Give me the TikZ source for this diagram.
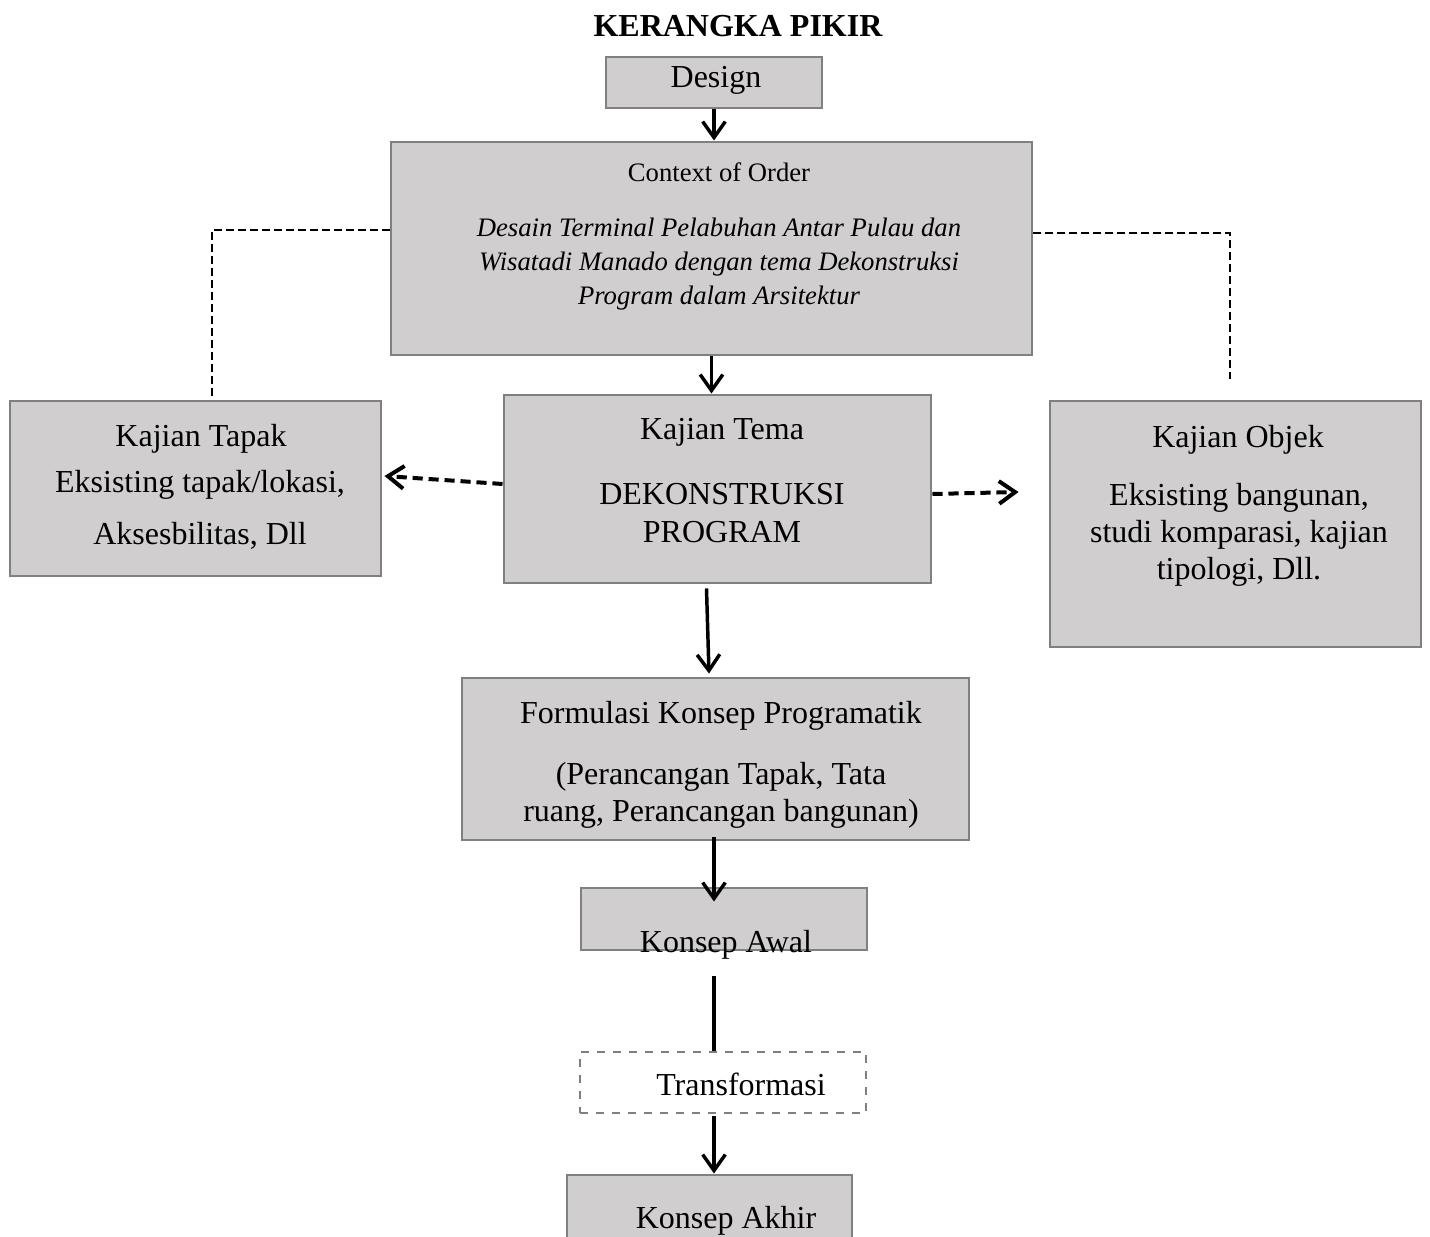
\documentclass[tikz,border=0pt]{standalone}
\usepackage{fontspec}
\setmainfont{Liberation Serif}
\usetikzlibrary{arrows.meta, fit, positioning}
\definecolor{boxfill}{RGB}{208, 206, 206}
\definecolor{boxline}{RGB}{128, 128, 128}

\begin{document}
\begin{tikzpicture}[x=0.375pt, y=-0.375pt,
    box/.style={draw=boxline, fill=boxfill, line width=1.1pt, inner sep=0pt},
    dashbox/.style={draw=boxline, fill=white, dashed, line width=0.8pt, inner sep=0pt},
    txt/.style={font=\fontsize{12}{14}\selectfont, align=center, inner sep=0pt},
    flow/.style={-{Straight Barb[length=6pt, width=8.5pt]}, line width=1.3pt},
    side/.style={flow, dash pattern=on 3.8pt off 2.2pt, line width=1.5pt},
    link/.style={dash pattern=on 3pt off 1.5pt, line width=1pt}]
  \path[use as bounding box, clip] (0,0) rectangle (1430,1237);

  % Title
  \node[txt, font=\bfseries\fontsize{12}{14}\selectfont, anchor=base] (title) at (738,37) {KERANGKA PIKIR};

  % Main boxes
  \node[box, fit={(606,57) (822,108)}] (design) {};
  \node[box, fit={(391,142) (1032,355)}] (context) {};
  \node[box, fit={(504,395) (931,583)}] (tema) {};
  \node[box, fit={(10,401) (381,576)}] (tapak) {};
  \node[box, fit={(1050,401) (1421,647)}] (objek) {};
  \node[box, fit={(462,678) (969,840)}] (formulasi) {};
  \node[box, fit={(581,888) (867,950)}] (awal) {};
  \node[dashbox, fit={(580,1052) (866,1113)}] (trans) {};
  \node[box, fit={(567,1175) (852,1260)}] (akhir) {};

  % Texts
  \node[txt, anchor=base] (designtxt) at (716,88) {Design};
  \node[txt, font=\fontsize{10}{12}\selectfont, anchor=base] (contexttxt) at (719,182) {Context of Order};
  \node[txt, font=\itshape\fontsize{10}{12.9}\selectfont] (contextbody) at (719,264)
    {Desain Terminal Pelabuhan Antar Pulau dan\\Wisatadi Manado dengan tema Dekonstruksi\\Program dalam Arsitektur};
  \node[txt, anchor=base] (tematxt) at (722,440) {Kajian Tema};
  \node[txt, font=\fontsize{12}{14.25}\selectfont] (temabody) at (722,513) {DEKONSTRUKSI\\PROGRAM};
  \node[txt, anchor=base] (tapaktxt) at (201,447) {Kajian Tapak};
  \node[txt, font=\fontsize{12}{19.5}\selectfont] (tapakbody) at (200,510) {Eksisting tapak/lokasi,\\Aksesbilitas, Dll};
  \node[txt, anchor=base] (objektxt) at (1238,448) {Kajian Objek};
  \node[txt, font=\fontsize{12}{13.9}\selectfont] (objekbody) at (1239,535)
    {Eksisting bangunan,\\studi komparasi, kajian\\tipologi, Dll.};
  \node[txt, anchor=base] (formulasitxt) at (721,723) {Formulasi Konsep Programatik};
  \node[txt, font=\fontsize{12}{13.9}\selectfont] (formulasibody) at (721,795)
    {(Perancangan Tapak, Tata\\ruang, Perancangan bangunan)};
  \node[txt, anchor=base] (awaltxt) at (726,952) {Konsep Awal};
  \node[txt, anchor=base] (transtxt) at (741,1095) {Transformasi};
  \node[txt, anchor=base] (akhirtxt) at (726,1228) {Konsep Akhir};

  % Dashed links to the side studies
  \draw[link] ([shift={(0,-18.5)}]context.west) -| ([shift={(16.5,-3)}]tapak.north);
  \draw[link] ([shift={(0,-15.5)}]context.east) -| ([shift={(-5.5,-21)}]objek.north);

  % Flow
  \draw[flow] (design.south) -- (design.south |- context.north);
  \draw[flow] (context.south) -- (context.south |- tema.north);
  \draw[side] ([shift={(0,-5)}]tema.west) -- ([shift={(2,-12.5)}]tapak.east);
  \draw[side] ([shift={(0,5)}]tema.east) -- ([shift={(-30,-32)}]objek.west);
  \draw[flow] ([shift={(-11,4)}]tema.south) -- ([shift={(-6.5,-3)}]formulasi.north);
  \draw[flow] ([shift={(-1.5,-4)}]formulasi.south) -- ([shift={(-10,15)}]awal.north);
  \draw[line width=1.3pt] ([shift={(-10,25)}]awal.south) -- ([shift={(-9,0)}]trans.north);
  \draw[flow] ([shift={(-9,2)}]trans.south) -- ([shift={(4.5,0)}]akhir.north);
\end{tikzpicture}
\end{document}
